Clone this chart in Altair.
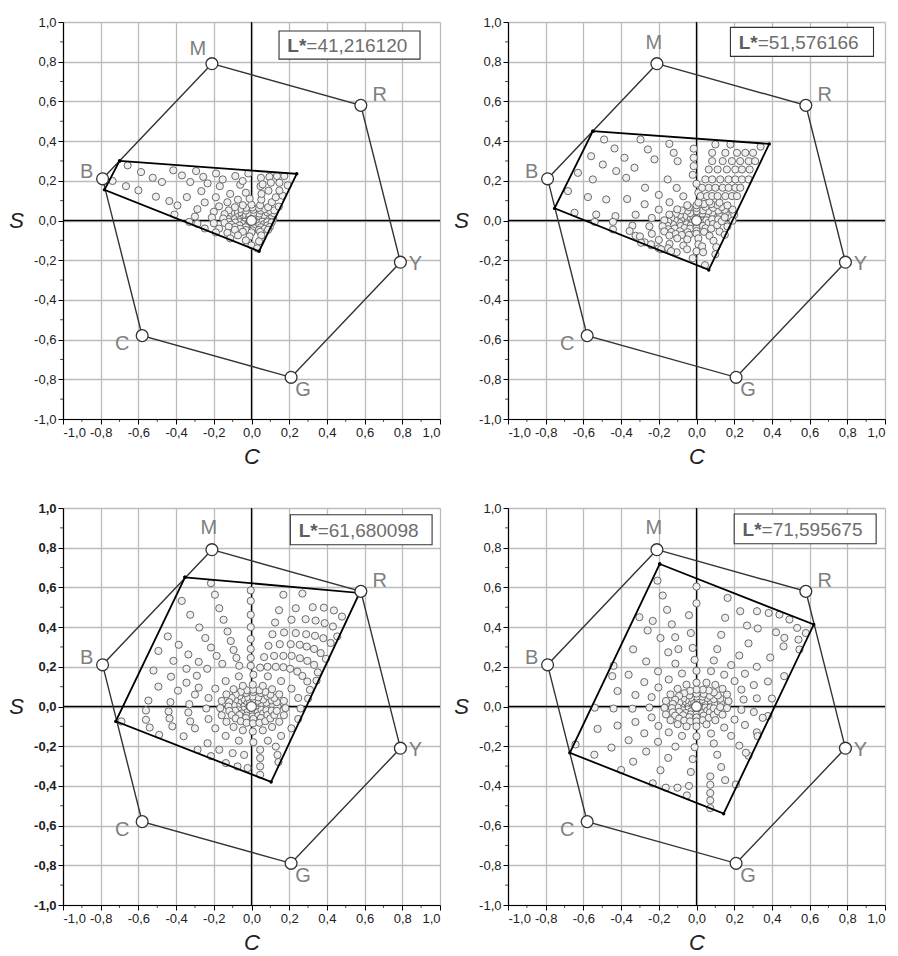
import altair as alt
import pandas as pd

# ---------------- data ----------------
TICKS = [-1.0, -0.8, -0.6, -0.4, -0.2, 0.0, 0.2, 0.4, 0.6, 0.8, 1.0]
MINOR = [-0.9, -0.7, -0.5, -0.3, -0.1, 0.1, 0.3, 0.5, 0.7, 0.9]

PRIMARY_NAMES = ["M", "R", "Y", "G", "C", "B"]
PRIMARY_C = [-0.21, 0.58, 0.79, 0.21, -0.58, -0.79]
PRIMARY_S = [0.79, 0.58, -0.21, -0.79, -0.58, 0.21]

L_STAR = ["41,216120", "51,576166", "61,680098", "71,595675"]

QUAD_C = [
    [-0.70, 0.24, 0.04, -0.78],
    [-0.55, 0.386, 0.065, -0.753],
    [-0.353, 0.573, 0.104, -0.72],
    [-0.195, 0.622, 0.144, -0.672],
]
QUAD_S = [
    [0.30, 0.235, -0.155, 0.155],
    [0.45, 0.386, -0.249, 0.061],
    [0.651, 0.572, -0.38, -0.075],
    [0.718, 0.413, -0.54, -0.233],
]

DOTS_1 = [
    [0.04, 0.005], [0.031, 0.013], [0.01, 0.017], [-0.011, 0.013], [-0.02, 0.005], [-0.011, -0.003], [0.01, -0.007], [0.031, -0.003],
    [0.065, 0.005], [0.058, 0.016], [0.038, 0.024], [0.01, 0.027], [-0.018, 0.024], [-0.038, 0.016], [-0.045, 0.005], [-0.038, -0.006],
    [-0.018, -0.014], [0.01, -0.017], [0.038, -0.014], [0.058, -0.006],
    [0.09, 0.005], [0.084, 0.018], [0.067, 0.028], [0.041, 0.035], [0.01, 0.038], [-0.021, 0.035], [-0.047, 0.028], [-0.064, 0.018],
    [-0.07, 0.005], [-0.064, -0.008], [-0.047, -0.018], [-0.021, -0.025], [0.01, -0.028], [0.041, -0.025], [0.067, -0.018], [0.084, -0.008],
    [0.115, 0.008], [0.107, 0.026], [0.084, 0.041], [0.05, 0.05], [0.01, 0.054], [-0.03, 0.05], [-0.064, 0.041], [-0.087, 0.026],
    [-0.095, 0.008], [-0.087, -0.01], [-0.064, -0.025], [-0.03, -0.034], [0.01, -0.038], [0.05, -0.034], [0.084, -0.025], [0.107, -0.01],
    [0.118, 0.037], [0.097, 0.049], [0.07, 0.058], [0.039, 0.064], [0.005, 0.066], [-0.029, 0.064], [-0.06, 0.058], [-0.087, 0.049],
    [-0.108, 0.037], [-0.121, 0.023], [-0.125, 0.008], [-0.121, -0.007], [-0.108, -0.021], [-0.087, -0.033], [-0.06, -0.042],
    [-0.029, -0.048], [0.005, -0.05], [0.039, -0.048], [0.07, -0.042], [0.097, -0.033],
    [0.121, 0.051], [0.088, 0.067], [0.046, 0.077], [0.0, 0.08], [-0.046, 0.077], [-0.088, 0.067], [-0.121, 0.051], [-0.143, 0.032],
    [-0.15, 0.01], [-0.143, -0.012], [-0.121, -0.031], [-0.088, -0.047], [-0.046, -0.057], [0.0, -0.06], [0.046, -0.057], [0.088, -0.047],
    [0.145, 0.07], [0.108, 0.092], [0.052, 0.105], [-0.01, 0.11], [-0.072, 0.105], [-0.128, 0.092], [-0.172, 0.071], [-0.2, 0.044],
    [-0.21, 0.015], [-0.2, -0.014], [-0.172, -0.041], [-0.128, -0.062], [-0.072, -0.075], [-0.01, -0.08], [0.052, -0.075],
    [0.129, 0.117], [0.053, 0.134], [-0.03, 0.14], [-0.113, 0.134], [-0.189, 0.117], [-0.248, 0.091], [-0.287, 0.057], [-0.3, 0.02],
    [-0.287, -0.017], [-0.248, -0.04], [-0.189, -0.06], [-0.113, -0.09], [-0.03, -0.1], [0.04, -0.105],
    [0.0, -0.125], [0.03, -0.14], [0.165, 0.125], [0.09, 0.15],
    [0.148, 0.151], [0.048, 0.173], [-0.06, 0.18], [-0.168, 0.173], [-0.266, 0.148], [-0.343, 0.118], [-0.393, 0.076],
    [-0.415, 0.253], [-0.294, 0.249], [-0.188, 0.237], [-0.086, 0.224], [-0.017, 0.237], [0.05, 0.215], [0.095, 0.22], [0.135, 0.224], [0.174, 0.224],
    [-0.369, 0.227], [-0.256, 0.22], [-0.153, 0.207], [-0.047, 0.199], [0.059, 0.182], [0.103, 0.19], [0.148, 0.19], [0.192, 0.177],
    [-0.657, 0.278], [-0.586, 0.244], [-0.524, 0.215], [-0.475, 0.194], [-0.737, 0.199], [-0.666, 0.173], [-0.6, 0.152],
    [-0.507, 0.12], [-0.436, 0.098], [-0.325, 0.194], [-0.233, 0.187], [-0.409, 0.03], [-0.33, -0.007],
]

DOTS_2 = [
    [0.035, 0.012], [0.025, 0.021], [0.0, 0.02], [-0.025, 0.011], [-0.035, -0.002], [-0.025, -0.011], [0.0, -0.01], [0.025, -0.001],
    [0.06, 0.017], [0.052, 0.029], [0.03, 0.035], [0.0, 0.033], [-0.03, 0.023], [-0.052, 0.009], [-0.06, -0.007], [-0.052, -0.019],
    [-0.03, -0.025], [0.0, -0.023], [0.03, -0.013], [0.052, 0.001],
    [0.09, 0.023], [0.083, 0.038], [0.064, 0.048], [0.034, 0.051], [0.0, 0.047], [-0.034, 0.037], [-0.064, 0.022], [-0.083, 0.004],
    [-0.09, -0.013], [-0.083, -0.028], [-0.064, -0.038], [-0.034, -0.041], [0.0, -0.037], [0.034, -0.027], [0.064, -0.012], [0.083, 0.006],
    [0.125, 0.03], [0.115, 0.05], [0.088, 0.064], [0.048, 0.069], [0.0, 0.063], [-0.048, 0.049], [-0.088, 0.028], [-0.115, 0.004],
    [-0.125, -0.02], [-0.115, -0.04], [-0.088, -0.054], [-0.048, -0.059], [0.0, -0.053], [0.048, -0.039], [0.088, -0.018], [0.115, 0.006],
    [0.155, 0.036], [0.15, 0.054], [0.134, 0.068], [0.11, 0.078], [0.078, 0.083], [0.04, 0.083], [0.0, 0.077], [-0.04, 0.067],
    [-0.078, 0.051], [-0.11, 0.034], [-0.134, 0.014], [-0.15, -0.006], [-0.155, -0.026], [-0.15, -0.044], [-0.134, -0.058], [-0.11, -0.068],
    [-0.078, -0.073], [-0.04, -0.073], [0.0, -0.067], [0.04, -0.057], [0.078, -0.041], [0.11, -0.024], [0.134, -0.004], [0.15, 0.016],
    [0.2, 0.029], [0.191, 0.055], [0.164, 0.076], [0.122, 0.09], [0.069, 0.095], [0.01, 0.09], [-0.049, 0.077], [-0.102, 0.056],
    [-0.144, 0.03], [-0.171, 0.001], [-0.18, -0.029], [-0.171, -0.055], [-0.144, -0.076], [-0.102, -0.09], [-0.049, -0.095], [0.01, -0.09],
    [0.069, -0.077], [0.122, -0.056], [0.164, -0.03], [0.191, -0.001],
    [0.01, 0.14], [-0.07, 0.122], [-0.143, 0.092], [-0.2, 0.055], [-0.237, 0.013],
    [-0.25, -0.029], [-0.237, -0.067], [-0.2, -0.098], [-0.143, -0.118], [-0.07, -0.126], [0.01, -0.12], [0.09, -0.102], [0.15, -0.072],
    [0.0, 0.185], [-0.105, 0.164], [-0.2, 0.129], [-0.275, 0.082], [-0.323, 0.029],
    [-0.34, -0.026], [-0.323, -0.077], [-0.275, -0.11], [-0.2, -0.14], [-0.105, -0.16], [0.0, -0.155], [0.105, -0.134],
    [-0.02, 0.23], [-0.153, 0.207], [-0.273, 0.165], [-0.368, 0.108], [-0.02, -0.19], [0.1, -0.17],
    [-0.3, -0.08], [-0.24, -0.125], [-0.15, -0.14], [-0.05, -0.145],
    [0.1, 0.383], [0.18, 0.383], [0.34, 0.372],
    [0.083, 0.341], [0.153, 0.341], [0.215, 0.341], [0.259, 0.341], [0.3, 0.341],
    [0.083, 0.299], [0.139, 0.299], [0.188, 0.299], [0.232, 0.299], [0.277, 0.299], [0.311, 0.299],
    [0.065, 0.257], [0.112, 0.257], [0.161, 0.257], [0.206, 0.257], [0.241, 0.257], [0.282, 0.257],
    [0.047, 0.207], [0.083, 0.207], [0.126, 0.207], [0.17, 0.207], [0.206, 0.207], [0.241, 0.207], [0.277, 0.207],
    [0.03, 0.165], [0.065, 0.165], [0.1, 0.165], [0.139, 0.165], [0.17, 0.165], [0.206, 0.165], [0.232, 0.165],
    [0.021, 0.123], [0.056, 0.123], [0.083, 0.123], [0.112, 0.123], [0.153, 0.123], [0.188, 0.123], [0.215, 0.123],
    [-0.49, 0.408], [-0.435, 0.363], [-0.382, 0.316], [-0.329, 0.266], [-0.297, 0.408], [-0.258, 0.358], [-0.223, 0.308],
    [-0.559, 0.324], [-0.497, 0.282], [-0.426, 0.249], [-0.373, 0.215], [-0.629, 0.24], [-0.55, 0.207], [-0.682, 0.148],
    [-0.576, 0.118], [-0.479, 0.106], [-0.647, 0.039], [-0.532, 0.03], [-0.43, 0.022], [-0.54, -0.007], [-0.443, -0.007],
    [-0.443, -0.045], [-0.355, -0.053], [-0.294, -0.112], [-0.241, -0.12], [-0.188, -0.145], [-0.135, -0.154],
    [-0.144, 0.386], [-0.121, 0.341], [-0.1, 0.299], [-0.015, 0.362], [-0.015, 0.316], [-0.015, 0.274],
    [0.03, -0.13], [0.035, -0.16], [0.045, -0.225],
]

DOTS_3 = [
    [0.035, 0.0], [0.026, 0.013], [0.005, 0.018], [-0.016, 0.013], [-0.025, 0.0], [-0.016, -0.013], [0.005, -0.018], [0.026, -0.013],
    [0.06, 0.0], [0.053, 0.017], [0.033, 0.029], [0.005, 0.033], [-0.023, 0.029], [-0.043, 0.017], [-0.05, 0.0], [-0.043, -0.017],
    [-0.023, -0.029], [0.005, -0.033], [0.033, -0.029], [0.053, -0.017],
    [0.085, 0.0], [0.079, 0.019], [0.062, 0.035], [0.036, 0.046], [0.005, 0.05], [-0.026, 0.046], [-0.052, 0.035], [-0.069, 0.019],
    [-0.075, 0.0], [-0.069, -0.019], [-0.052, -0.035], [-0.026, -0.046], [0.005, -0.05], [0.036, -0.046], [0.062, -0.035], [0.079, -0.019],
    [0.115, 0.005], [0.107, 0.031], [0.084, 0.053], [0.05, 0.068], [0.01, 0.073], [-0.03, 0.068], [-0.064, 0.053], [-0.087, 0.031],
    [-0.095, 0.005], [-0.087, -0.021], [-0.064, -0.043], [-0.03, -0.058], [0.01, -0.063], [0.05, -0.058], [0.084, -0.043], [0.107, -0.021],
    [0.138, 0.0], [0.134, 0.022], [0.121, 0.043], [0.1, 0.06], [0.073, 0.074], [0.042, 0.082], [0.008, 0.085], [-0.026, 0.082],
    [-0.057, 0.074], [-0.084, 0.06], [-0.105, 0.043], [-0.118, 0.022], [-0.122, 0.0], [-0.118, -0.022], [-0.105, -0.043], [-0.084, -0.06],
    [-0.057, -0.074], [-0.026, -0.082], [0.008, -0.085], [0.042, -0.082], [0.073, -0.074], [0.1, -0.06], [0.121, -0.043], [0.134, -0.022],
    [0.18, -0.008], [0.172, 0.028], [0.147, 0.061], [0.109, 0.087], [0.06, 0.104], [0.007, 0.11], [-0.046, 0.104], [-0.095, 0.087],
    [-0.133, 0.061], [-0.158, 0.028], [-0.166, -0.008], [-0.158, -0.044], [-0.133, -0.077], [-0.095, -0.103], [-0.046, -0.12], [0.007, -0.126],
    [0.06, -0.12], [0.109, -0.103], [0.147, -0.077], [0.172, -0.044],
    [0.26, -0.01], [0.248, 0.043], [0.212, 0.09], [0.157, 0.128], [0.087, 0.152], [0.01, 0.16], [-0.067, 0.152], [-0.137, 0.128],
    [-0.192, 0.09], [-0.228, 0.043], [-0.24, -0.01], [-0.228, -0.063], [-0.192, -0.11], [-0.137, -0.148], [-0.067, -0.172], [0.01, -0.18],
    [0.087, -0.172], [0.157, -0.148], [0.212, -0.11], [0.248, -0.063],
    [0.046, 0.196], [0.085, 0.2], [0.129, 0.2], [0.169, 0.198], [0.205, 0.19], [0.243, 0.176], [0.27, 0.154], [0.296, 0.126], [0.31, 0.084], [0.3, 0.04],
    [0.067, 0.249], [0.12, 0.255], [0.169, 0.255], [0.213, 0.255], [0.257, 0.243], [0.296, 0.23], [0.332, 0.21], [0.352, 0.172], [0.345, 0.13],
    [0.09, 0.306], [0.15, 0.314], [0.208, 0.314], [0.256, 0.311], [0.293, 0.302], [0.332, 0.29], [0.367, 0.269], [0.395, 0.24],
    [0.111, 0.364], [0.173, 0.373], [0.235, 0.37], [0.29, 0.364], [0.337, 0.356], [0.381, 0.344], [0.42, 0.32], [0.455, 0.353],
    [0.125, 0.423], [0.212, 0.437], [0.287, 0.44], [0.34, 0.433], [0.388, 0.42], [0.432, 0.403],
    [0.146, 0.485], [0.235, 0.495], [0.325, 0.5], [0.384, 0.498], [0.437, 0.484], [0.48, 0.453],
    [0.169, 0.563], [0.27, 0.569],
    [-0.004, 0.585], [-0.004, 0.532], [-0.004, 0.462], [-0.004, 0.4], [-0.004, 0.34], [-0.004, 0.29], [-0.004, 0.245], [-0.004, 0.205],
    [-0.215, 0.621], [-0.194, 0.563], [-0.171, 0.495], [-0.148, 0.437], [-0.127, 0.378], [-0.11, 0.33], [-0.095, 0.285], [-0.08, 0.245], [-0.065, 0.205],
    [-0.37, 0.532], [-0.325, 0.462], [-0.277, 0.398], [-0.245, 0.345], [-0.215, 0.297], [-0.185, 0.255], [-0.155, 0.215],
    [-0.444, 0.353], [-0.386, 0.311], [-0.335, 0.262], [-0.28, 0.225], [-0.235, 0.19],
    [-0.494, 0.28], [-0.414, 0.23], [-0.345, 0.19], [-0.29, 0.155],
    [-0.52, 0.181], [-0.427, 0.15], [-0.345, 0.12], [-0.28, 0.095],
    [-0.494, 0.1], [-0.39, 0.08], [-0.3, 0.06],
    [-0.547, 0.03], [-0.43, 0.022], [-0.33, 0.012],
    [-0.56, -0.02], [-0.44, -0.025], [-0.335, -0.03],
    [-0.56, -0.067], [-0.435, -0.06], [-0.325, -0.075],
    [-0.54, -0.106], [-0.42, -0.1], [-0.3, -0.11],
    [-0.49, -0.143], [-0.36, -0.15],
    [-0.69, -0.075],
    [-0.233, -0.185], [-0.171, -0.218], [-0.1, -0.235], [-0.039, -0.244],
    [-0.286, -0.218], [-0.215, -0.25], [-0.136, -0.285], [-0.074, -0.302], [-0.021, -0.31],
    [0.046, -0.218], [0.046, -0.26], [0.046, -0.302], [0.046, -0.344],
    [0.129, -0.202], [0.138, -0.244], [0.143, -0.28],
]

DOTS_4 = [
    [0.03, 0.008], [0.021, 0.018], [0.0, 0.02], [-0.021, 0.013], [-0.03, 0.002], [-0.021, -0.008], [0.0, -0.01], [0.021, -0.004],
    [0.055, 0.011], [0.048, 0.025], [0.028, 0.034], [0.0, 0.035], [-0.028, 0.028], [-0.048, 0.015], [-0.055, -0.001], [-0.048, -0.015],
    [-0.028, -0.024], [0.0, -0.025], [0.028, -0.018], [0.048, -0.005],
    [0.08, 0.013], [0.074, 0.029], [0.057, 0.043], [0.031, 0.05], [0.0, 0.05], [-0.031, 0.044], [-0.057, 0.031], [-0.074, 0.015],
    [-0.08, -0.003], [-0.074, -0.019], [-0.057, -0.033], [-0.031, -0.04], [0.0, -0.04], [0.031, -0.034], [0.057, -0.021], [0.074, -0.005],
    [0.1, 0.015], [0.092, 0.037], [0.071, 0.054], [0.038, 0.064], [0.0, 0.065], [-0.038, 0.056], [-0.071, 0.04], [-0.092, 0.019],
    [-0.1, -0.005], [-0.092, -0.027], [-0.071, -0.044], [-0.038, -0.054], [0.0, -0.055], [0.038, -0.046], [0.071, -0.03], [0.092, -0.009],
    [0.13, 0.018], [0.126, 0.039], [0.113, 0.056], [0.092, 0.071], [0.065, 0.081], [0.034, 0.085], [0.0, 0.085], [-0.034, 0.079],
    [-0.065, 0.067], [-0.092, 0.053], [-0.113, 0.034], [-0.126, 0.013], [-0.13, -0.008], [-0.126, -0.029], [-0.113, -0.046], [-0.092, -0.061],
    [-0.065, -0.071], [-0.034, -0.075], [0.0, -0.075], [0.034, -0.069], [0.065, -0.057], [0.092, -0.043], [0.113, -0.024], [0.126, -0.003],
    [0.17, 0.027], [0.162, 0.06], [0.138, 0.089], [0.1, 0.109], [0.053, 0.12], [0.0, 0.12], [-0.053, 0.11], [-0.1, 0.089],
    [-0.138, 0.061], [-0.162, 0.028], [-0.17, -0.007], [-0.162, -0.04], [-0.138, -0.069], [-0.1, -0.089], [-0.053, -0.1], [0.0, -0.1],
    [0.053, -0.09], [0.1, -0.069], [0.138, -0.041], [0.162, -0.008],
    [0.25, 0.035], [0.238, 0.085], [0.202, 0.128], [0.147, 0.16], [0.077, 0.178], [0.0, 0.18], [-0.077, 0.166], [-0.147, 0.136],
    [-0.202, 0.096], [-0.238, 0.047], [-0.25, -0.005], [-0.238, -0.055], [-0.202, -0.098], [-0.147, -0.13], [-0.077, -0.148], [0.0, -0.15],
    [0.077, -0.136], [0.147, -0.106], [0.202, -0.066], [0.238, -0.017],
    [0.32, 0.041], [0.304, 0.108], [0.257, 0.165], [0.184, 0.209], [0.092, 0.232], [-0.01, 0.235], [-0.112, 0.216], [-0.204, 0.177],
    [-0.277, 0.123], [-0.324, 0.058], [-0.34, -0.011], [-0.324, -0.078], [-0.277, -0.135], [-0.204, -0.178], [-0.112, -0.202], [-0.01, -0.205],
    [0.092, -0.186], [0.184, -0.148], [0.257, -0.093], [0.304, -0.028],
    [0.4, 0.04], [0.379, 0.126], [0.32, 0.2], [0.227, 0.257], [0.11, 0.289], [-0.02, 0.295], [-0.15, 0.273], [-0.267, 0.227],
    [-0.36, 0.16], [-0.419, 0.078], [-0.44, -0.01], [-0.419, -0.096], [-0.36, -0.17], [-0.267, -0.227], [-0.15, -0.259], [-0.02, -0.265],
    [0.11, -0.243], [0.227, -0.197], [0.32, -0.13], [0.379, -0.048],
    [0.465, 0.153], [0.391, 0.247], [0.276, 0.318], [0.131, 0.361], [-0.03, 0.37], [-0.191, 0.345], [-0.336, 0.288], [-0.44, 0.205],
    [-0.54, -0.006], [-0.525, -0.113], [-0.451, -0.207], [-0.336, -0.278], [-0.191, -0.321], [-0.03, -0.33], [0.131, -0.305], [0.276, -0.248],
    [0.462, 0.303], [0.325, 0.393], [0.152, 0.447], [-0.04, 0.46], [-0.232, 0.431],
    [-0.542, -0.243], [-0.4, -0.32], [-0.232, -0.387], [-0.04, -0.4], [0.152, -0.371],
    [0.165, 0.547], [0.232, 0.48], [0.321, 0.48], [0.383, 0.471], [0.44, 0.463], [0.493, 0.438], [0.534, 0.396], [0.58, 0.37],
    [0.268, 0.408], [0.422, 0.374], [0.466, 0.346], [0.541, 0.337], [0.546, 0.287],
    [-0.207, 0.634], [-0.179, 0.559], [-0.156, 0.487], [-0.131, 0.414], [-0.113, 0.349], [-0.096, 0.289],
    [-0.303, 0.45], [-0.259, 0.383], [-0.447, 0.153],
    [0.0, 0.604], [0.0, 0.52],
    [0.073, -0.352], [0.073, -0.394], [0.073, -0.436], [0.073, -0.473], [0.073, -0.512],
    [-0.642, -0.191], [-0.163, -0.409], [-0.101, -0.409], [-0.051, -0.448],
    [0.351, -0.057], [0.324, -0.149], [0.262, -0.233], [0.209, -0.393],
]

DOTS = [DOTS_1, DOTS_2, DOTS_3, DOTS_4]

# ---------------- styling / layout (not data) ----------------
W, H = 377, 397
FONT = "Liberation Sans"
LABEL_EXPR = "replace(replace(format(datum.value, '.1f'), '.', ','), '\u2212', '-')"
BOXES = [  # x0, x1, y0, y1 in axis units
    (0.146, 0.894, 0.813, 0.955),
    (0.18, 0.939, 0.827, 0.973),
    (0.206, 0.958, 0.815, 0.966),
    (0.20, 0.953, 0.82, 0.97),
]
LABEL_OFFSETS = {"R": (19, -10), "Y": (15, 2), "G": (12, 13), "C": (-20, 8), "B": (-16, -7)}
M_OFFSETS = [(-14, -15), (-3, -21), (-3, -22), (-3, -22)]

XS = alt.Scale(domain=[-1, 1], nice=False, zero=False)
YS = alt.Scale(domain=[-1, 1], nice=False, zero=False)


def panel(i):
    bold = "bold" if i == 2 else "normal"
    common = dict(
        values=TICKS, labelExpr=LABEL_EXPR, labelFont=FONT, labelFontSize=13,
        labelColor="#222222", tickColor="#000000", tickSize=5, tickWidth=1,
        domainColor="#000000", domainWidth=1.2, grid=True, gridColor="#bcbcbc",
        gridWidth=1.3, titleFont=FONT, titleFontSize=22, titleFontStyle="italic",
        titleFontWeight="normal", titleColor="#222222", labelPadding=2,
    )
    ax_x = alt.Axis(title="C", titleX=W / 2, titleY=37, titleAlign="center",
                    titleBaseline="middle", labelFontWeight="normal", **common)
    ax_y = alt.Axis(title="S", titleAngle=0, titleX=-47, titleY=H / 2, titleAlign="center",
                    titleBaseline="middle", labelFontWeight=bold, **common)

    def X(field):
        return alt.X(field, type="quantitative", scale=XS, axis=ax_x)

    def Y(field):
        return alt.Y(field, type="quantitative", scale=YS, axis=ax_y)

    def XD(v):
        return alt.XDatum(v, type="quantitative", scale=XS, axis=ax_x)

    def YD(v):
        return alt.YDatum(v, type="quantitative", scale=YS, axis=ax_y)

    tick_df = pd.DataFrame({"v": TICKS})
    base = alt.Chart(tick_df).mark_point(opacity=0).encode(x=X("v"), y=Y("v"))

    one = pd.DataFrame({"a": [0]})
    zero_v = alt.Chart(one).mark_rule(color="#000000", strokeWidth=1.3).encode(x=XD(0.0))
    zero_h = alt.Chart(one).mark_rule(color="#000000", strokeWidth=1.3).encode(y=YD(0.0))

    minor_df = pd.DataFrame({"v": MINOR})
    minor_y = alt.Chart(minor_df).mark_tick(orient="horizontal", size=3, thickness=1,
                                            color="#000000", xOffset=-1.5).encode(
        x=XD(-1.0), y=Y("v"))
    minor_x = alt.Chart(minor_df).mark_tick(orient="vertical", size=3, thickness=1,
                                            color="#000000", yOffset=1.5).encode(
        x=X("v"), y=YD(-1.0))

    dots_df = pd.DataFrame(DOTS[i], columns=["c", "s"])
    dots = alt.Chart(dots_df).mark_point(
        shape="circle", filled=True, fill="#efefef", stroke="#6a6a6a",
        strokeWidth=1.0, size=52, opacity=1
    ).encode(x=X("c"), y=Y("s"))

    hex_df = pd.DataFrame({
        "c": PRIMARY_C + [PRIMARY_C[0]],
        "s": PRIMARY_S + [PRIMARY_S[0]],
        "k": list(range(len(PRIMARY_C) + 1)),
    })
    hexline = alt.Chart(hex_df).mark_line(color="#333333", strokeWidth=1.4).encode(
        x=X("c"), y=Y("s"), order="k:Q")

    q_df = pd.DataFrame({
        "c": QUAD_C[i] + [QUAD_C[i][0]],
        "s": QUAD_S[i] + [QUAD_S[i][0]],
        "k": list(range(5)),
    })
    quad = alt.Chart(q_df).mark_line(color="#000000", strokeWidth=1.8).encode(
        x=X("c"), y=Y("s"), order="k:Q")
    qpts = alt.Chart(q_df).mark_point(shape="circle", filled=True, color="#000000",
                                      size=12, opacity=1).encode(x=X("c"), y=Y("s"))

    prim_df = pd.DataFrame({"name": PRIMARY_NAMES, "c": PRIMARY_C, "s": PRIMARY_S})
    prims = alt.Chart(prim_df).mark_point(
        shape="circle", filled=True, fill="#ffffff", stroke="#333333",
        strokeWidth=1.3, size=140, opacity=1
    ).encode(x=X("c"), y=Y("s"))

    center = alt.Chart(one).mark_point(
        shape="circle", filled=True, fill="#ffffff", stroke="#555555",
        strokeWidth=1.1, size=95, opacity=1
    ).encode(x=XD(0.0), y=YD(0.0))

    labels = []
    for name in PRIMARY_NAMES:
        dx, dy = M_OFFSETS[i] if name == "M" else LABEL_OFFSETS[name]
        ldf = prim_df[prim_df["name"] == name]
        labels.append(
            alt.Chart(ldf).mark_text(font=FONT, fontSize=20, color="#7f7f7f",
                                     dx=dx, dy=dy, align="center", baseline="middle")
            .encode(x=X("c"), y=Y("s"), text="name:N")
        )

    x0, x1, y0, y1 = BOXES[i]
    box = alt.Chart(one).mark_rect(fill="#ffffff", stroke="#333333", strokeWidth=1.1).encode(
        x=XD(x0), x2=alt.datum(x1), y=YD(y0), y2=alt.datum(y1))
    split = x0 + 0.145
    ymid = (y0 + y1) / 2
    t_l = alt.Chart(one).mark_text(font=FONT, fontSize=19, fontWeight="bold", color="#5e5e5e",
                                   align="right", baseline="middle", dy=1).encode(
        x=XD(split), y=YD(ymid), text=alt.value("L*"))
    t_v = alt.Chart(one).mark_text(font=FONT, fontSize=19, color="#6e6e6e",
                                   align="left", baseline="middle", dy=1).encode(
        x=XD(split), y=YD(ymid), text=alt.value("=" + L_STAR[i]))

    return alt.layer(
        base, zero_v, zero_h, minor_y, minor_x, dots, hexline, quad, qpts,
        prims, center, *labels, box, t_l, t_v
    ).properties(width=W, height=H)


top = alt.hconcat(panel(0), panel(1), spacing=10)
bottom = alt.hconcat(panel(2), panel(3), spacing=10)
chart = (
    alt.vconcat(top, bottom, spacing=35)
    .properties(padding={"left": 0, "top": 8, "right": 0, "bottom": 0})
    .configure_view(stroke=None)
)
chart.save("out.html", embed_options={"renderer": "svg", "actions": False})
